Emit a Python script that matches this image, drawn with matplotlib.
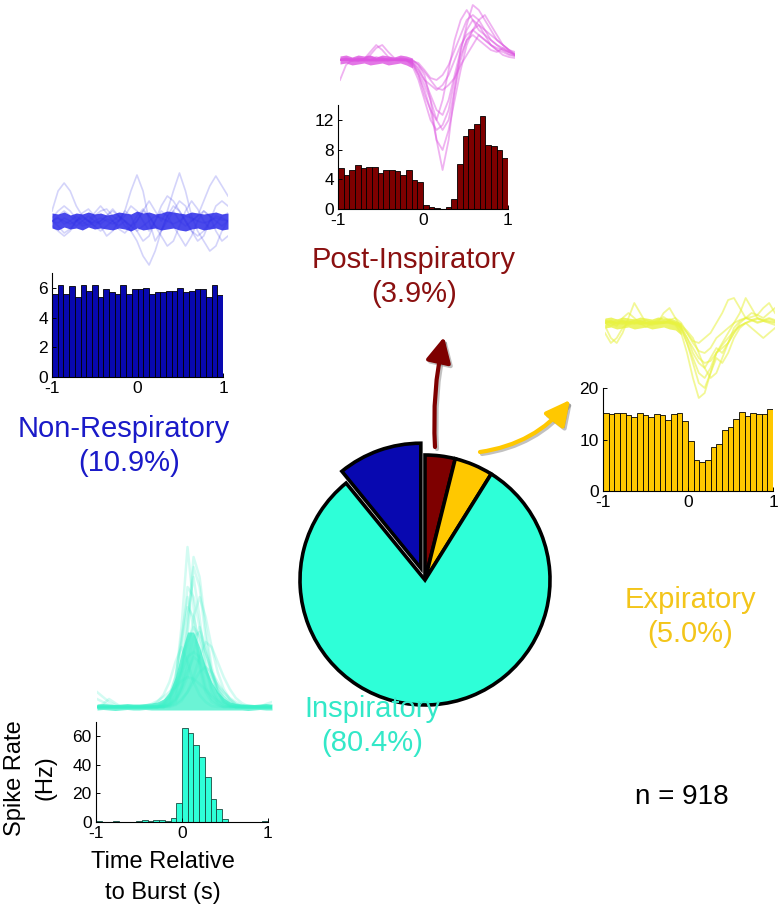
import matplotlib
matplotlib.use("Agg")
import matplotlib.pyplot as plt
import numpy as np
from matplotlib.patches import FancyArrowPatch

plt.rcParams['font.family'] = ['Liberation Sans', 'DejaVu Sans']
plt.rcParams['axes.unicode_minus'] = False

W, H = 780, 917

# ---------------- data ----------------
categories = ["Post-Inspiratory", "Expiratory", "Inspiratory", "Non-Respiratory"]
percents = [3.9, 5.0, 80.4, 10.9]
n_units = 918

bin_centers = np.linspace(-1 + 1/30, 1 - 1/30, 30)

nonresp_rate = [5.6, 6.2, 5.6, 6.1, 5.4, 6.2, 5.8, 6.2, 5.4, 5.9, 5.7, 5.6, 6.2, 5.6, 5.9,
                5.9, 6.0, 5.6, 5.7, 5.7, 5.8, 5.8, 6.0, 5.7, 5.8, 5.9, 5.9, 5.4, 6.2, 5.5]
postinsp_rate = [5.5, 4.6, 5.2, 5.9, 5.5, 5.6, 5.7, 4.8, 5.2, 5.2, 5.1, 4.6, 5.3, 3.9, 3.6,
                 0.5, 0.3, 0.15, 0.05, 0.3, 1.3, 6.1, 9.8, 10.8, 11.5, 12.5, 8.6, 8.5, 8.0, 6.9]
expir_rate = [15.2, 15.0, 15.2, 15.1, 14.8, 14.3, 15.2, 14.8, 14.3, 15.0, 14.8, 13.7, 15.0, 15.2, 13.5,
              9.8, 6.0, 5.7, 6.0, 8.6, 9.1, 11.9, 12.5, 13.9, 15.4, 14.6, 15.2, 15.0, 15.0, 15.9]
insp_rate = [0.4, 0.3, 0.3, 0.4, 0.3, 0.3, 0.3, 0.5, 1.6, 0.4, 1.2, 1.4, 0.5, 3.0, 13.2,
             66.0, 62.6, 54.0, 45.4, 31.5, 16.0, 9.4, 2.1, 0.3, 0.3, 0.2, 0.2, 0.3, 0.3, 0.8]

# spike waveforms (arbitrary units, baseline 0)
nonresp_waves = [
    [1, 3, 3.8, 3, 1.5, 0.5, 0, -0.5, -1, -0.5, 0, 0.5, 0, -0.5, -1, -0.5, 0, 0.5, 0.3, 0, -0.3, 0, 0.5, 0.3, 0, -0.2, 0, 0.3, 0.1, 0],
    [0, 0.3, -0.3, 0, 0.5, 0, -0.5, 0, 0.3, 0, -0.3, 0, 1, 3, 4.6, 3, 0, -2, -1, 0.5, 1, 0, -0.5, 0, 0.5, 1, 0.5, 0, -0.5, 0],
    [0, -0.2, 0.3, 0, -0.5, 0, 0.5, 0, -0.3, 0.2, 0, -0.5, 0, -1, -2, -3.5, -4.4, -3, -1, 0.5, 1.5, 1, 0, -1, -1.5, -1, 0, 0.5, 0.3, 0],
    [0, 0.3, 0, -0.3, 0, 0.3, 0, -0.2, 0, 0.5, 1, 0.5, 0, -0.5, 0, 1, 2, 1, 0, 1, 3, 4.8, 3, 0.5, -1, -2, -3, -2.5, -1, 0],
    [-0.5, -1, -1.5, -1, 0, 0.5, 0, -0.5, 0, 0.5, 1.2, 0.5, -0.5, -1, 0, 1, 0.5, -0.5, -1, 0, 1, 2, 1.5, 0, 0.5, 2, 3.5, 4.5, 3.5, 2.5],
    [0, 0.5, 1, 0.5, 0, -0.5, -0.3, 0.5, 1, 1.2, 0.5, 0, 0.5, 1.5, 1, 0, -1, 0, 1.5, 2.5, 2, 1, 0, -1, -2, -1.5, 0, 1.5, 2, 1.5],
    [0, -0.5, -1.2, -0.8, 0, 0.8, 1.2, 0.5, -0.5, -1.5, -1, 0, 1, 0.5, -1, -2, -1.5, 0, 1, 0.5, -0.5, -1.5, -2.5, -1.5, 0, 1, 0.5, -1, -2, -1.5],
    [0.3, 1, 1.5, 1, 0.2, -0.3, 0, 0.8, 1.5, 0.8, 0, -0.8, -1.2, -0.5, 0.5, 1.2, 0.5, -0.5, -1.5, -2.5, -2, -0.5, 1, 2, 1.2, 0, -0.8, -0.3, 0.5, 0.8],
]
nonresp_band_hi = [0.8, 0.7, 0.9, 0.6, 0.8, 0.7, 0.9, 0.7, 0.8, 0.6, 0.7, 0.9, 0.8, 0.7, 1.0,
                   0.8, 0.9, 0.7, 0.8, 1.0, 0.9, 0.8, 0.7, 0.9, 0.8, 0.7, 0.8, 0.9, 0.7, 0.8]
nonresp_band_lo = [-0.7, -0.9, -0.6, -0.8, -0.7, -0.9, -0.6, -0.8, -0.7, -0.8, -0.9, -0.7, -0.8, -1.0, -0.7,
                   -0.9, -0.8, -0.7, -0.9, -0.8, -0.7, -0.9, -1.0, -0.8, -0.7, -0.9, -0.8, -0.7, -0.9, -0.8]

postinsp_waves = [
    [0, 0.1, -0.1, 0, 0.1, 0, -0.1, 0, 0.1, 0, 0, -0.1, 0, -0.5, -1.5, -4, -8, -11, -8, -3, 1, 3, 4, 3.5, 2.5, 1.5, 1, 0.5, 0.3, 0.2],
    [0, 0.2, 0, -0.1, 0.1, 0.3, 0.1, 0, -0.1, 0, 0.1, 0, -0.2, -0.8, -2, -3.5, -5, -5.5, -4, -1.5, 1, 3.5, 5.5, 5, 4, 3, 2, 1.5, 1, 0.8],
    [-2, -0.5, 0, 0.2, 0.1, 0.8, 1.5, 1, 0.3, 0, -0.1, 0, -0.3, -1.2, -2.5, -4, -6, -7, -6, -3, 0, 2, 3, 3.5, 3, 2.5, 2, 1.5, 1, 0.5],
    [0, 0, 0.1, 0, -0.1, 0, 0.1, 0.2, 0, 0, 0, 0.1, -0.2, -1, -2, -2.5, -3, -2.5, -1.5, 0, 1.5, 2.5, 3, 2.5, 2, 1.5, 1, 0.8, 0.5, 0.4],
    [0.1, 0, -0.1, 0.1, 0, 0.1, 0, -0.1, 0, 0.1, 0, 0, -0.4, -1.5, -3, -5, -8, -9, -7, -4, -1, 1.5, 3, 4, 4.5, 3.5, 2.5, 1.5, 1, 0.6],
    [0, 0.1, 0, -0.1, 0, 0, 0.3, 0.1, 0, 0, 0.2, 0.1, 0, -0.5, -1.2, -2, -2.8, -3, -2.5, -1.8, -0.5, 0.5, 1.5, 2.5, 2, 1.5, 1.2, 1, 0.8, 0.5],
    [0, 0, 0, 0.1, 0, -0.1, 0, 0, 0.1, 0, 0, 0, -0.6, -2, -4, -6, -7, -6.5, -5, -2, 0.5, 2, 2.5, 2, 1.5, 1, 0.8, 1.2, 0.8, 0.5],
    [0, 0, 0.1, 0, 0.1, 0.5, 1.2, 1.5, 0.8, 0.2, 0, 0, -0.1, -0.3, -1, -1.8, -2, -1.5, -0.5, 1, 2.5, 4, 4.5, 4, 3, 2, 1.5, 1, 0.6, 0.4],
    [0, 0.1, 0, 0, 0.1, 0, 0, 0.1, 0, 0, 0.1, 0, -0.3, -1.5, -3.5, -5, -6, -4, -1, 2, 4, 5, 4, 3, 2.5, 2, 1.5, 1.2, 0.8, 0.6],
]
postinsp_band_hi = [0.4, 0.5, 0.3, 0.5, 0.4, 0.5, 0.3, 0.5, 0.4, 0.3, 0.5, 0.4, 0.2]
postinsp_band_lo = [-0.4, -0.3, -0.5, -0.4, -0.3, -0.5, -0.4, -0.3, -0.5, -0.4, -0.3, -0.5, -0.8]

expir_waves = [
    [0, 0.2, -0.1, 0.1, 0, 0.2, -0.1, 0, 0.1, 0, 0.2, 0, -0.2, -1, -3, -5.5, -7.5, -7, -5, -3.5, -4, -3, -1.5, -0.5, 0, 0.3, 0.5, 0.2, 0.1, 0],
    [-0.3, -1.5, -2, -1, 0.5, 2, 1, 0, -0.2, 0, 0.1, 0, -0.1, -0.5, -1.5, -3, -4, -4.5, -3.5, -2.5, -3, -2, -0.5, 0.2, 0.5, 0.3, 0, 0.2, 0, -0.2],
    [0.2, 0, 0.3, 0, -0.2, 0.1, 0, 0.3, 0, 0, 1, 1.5, 0.5, -0.5, -2, -4, -6, -6.5, -5, -3, -2, -1, 0, 1, 2.5, 1.5, 0.5, 0.3, 0.5, 0.3],
    [0, -0.3, 0.1, 0.2, 0, -0.1, 0.2, 0, -0.1, 0.1, 0, 0.2, 0, -0.3, -1, -2, -2.8, -3, -2.5, -1.5, -1, -0.5, 0, 0.3, 0.5, 0.6, 0.8, 1.5, 2, 1],
    [0.1, 0.2, 0, -0.1, 0.2, 0, 0.1, -0.1, 0, 0.1, 0, 0.1, -0.1, -0.6, -2, -3.5, -5, -5.5, -4.5, -3, -2.5, -2, -1, -0.3, 0, -0.5, -1, -1.5, -1, -0.5],
    [-1, -2, -1.5, -0.5, 0, 0.3, 0.2, 0, 0, -0.1, 0, 0.3, 0.5, 0, -1, -1.8, -2, -1.5, -1, 0, 1, 2.3, 2.5, 1.5, 0.5, 0.3, 0.1, 0.2, 0.4, 0.2],
    [0, 0.1, 0, 0.2, 0.1, 0, -0.1, 0, 0.2, 0, 0, 0.1, 0, -0.4, -1.5, -2.5, -3.5, -4, -3.8, -3, -2.2, -1.5, -0.8, -0.3, 0, 0.2, 0.4, 0.3, 0.2, 0.1],
    [0.3, 0, -0.3, 0.5, 1, 0.5, 0, -0.4, 0, 0.3, 0.6, 0.2, 0, -0.2, -0.8, -1.5, -3, -4.5, -5.5, -5, -3.5, -2, -1, 0, 0.5, 1, 0.8, 0.5, 1, 1.5],
]
expir_band_hi = [0.5, 0.6, 0.4, 0.6, 0.5, 0.4, 0.6, 0.5, 0.4, 0.6, 0.5, 0.5, 0.3, 0.0]
expir_band_lo = [-0.5, -0.4, -0.6, -0.5, -0.4, -0.6, -0.5, -0.4, -0.6, -0.5, -0.4, -0.6, -0.7, -1.2]

insp_waves = [
    [0, 0, 0, 0, 0, 0, 0, 0, 0, 0, 0, 0.2, 0.8, 2.5, 8, 16, 10, 4, 1.5, 0.5, 0.2, 0, 0, 0, 0, 0, 0, 0, 0, 0],
    [0, 0, 0, 0, 0, 0, 0, 0, 0, 0, 0, 0.1, 0.5, 1.5, 4, 9, 13, 9, 4, 1.5, 0.5, 0.1, 0, 0, 0, 0, 0, 0, 0, 0],
    [0, 0, 0, 0, 0, 0, 0, 0, 0, 0, 0.1, 0.4, 1.2, 3, 6.5, 10, 9, 6.5, 4, 2, 0.8, 0.3, 0.1, 0, 0, 0, 0, 0, 0, 0],
    [0, 0, 0, 0, 0, 0, 0, 0, 0, 0, 0, 0, 0.2, 0.6, 1.5, 3, 5.5, 8, 6, 3.5, 1.5, 0.5, 0.2, 0, 0, 0, 0, 0, 0, 0],
    [0, 0, 0, 0, 0, 0, 0, 0, 0, 0.1, 0.5, 1.2, 2.5, 4.5, 6, 4.5, 2.5, 1.2, 0.5, 0.1, 0, 0, 0, 0, 0, 0, 0, 0, 0, 0],
    [0, 0, 0, 0, 0, 0, 0, 0, 0, 0, 0, 0, 0.1, 0.3, 0.8, 1.5, 2.5, 3.5, 4, 3.5, 2.5, 1.5, 0.8, 0.3, 0.1, 0, 0, 0, 0, 0],
    [0, 0, 0, 0, 0, 0, 0, 0, 0, 0, 0, 0.2, 0.6, 2, 6, 12, 11, 8, 5.5, 3.5, 2, 1, 0.4, 0.1, 0, 0, 0, 0, 0, 0],
    [0, 0, 0, 0, 0, 0, 0, 0, 0.1, 0.3, 0.6, 1, 1.5, 2, 2.6, 3, 2.8, 2.3, 1.7, 1.1, 0.6, 0.3, 0.1, 0, 0, 0, 0, 0, 0, 0],
    [1.5, 1, 0.5, 0.2, 0, 0, 0, 0, 0, 0, 0, 0.1, 0.3, 0.8, 2, 4, 7, 7.5, 5.5, 3.5, 2, 1.2, 0.6, 0.2, 0, 0, 0, 0, 0.3, 0.5],
    [0, 0.3, 0.8, 0.4, 0, 0, 0, 0, 0, 0, 0, 0, 0.3, 1, 3, 7, 14, 12, 7, 3.5, 1.5, 0.5, 0.1, 0, 0, 0, 0, 0, 0, 0],
    [0, 0, 0, 0, 0, 0, 0, 0, 0, 0, 0.2, 0.5, 1, 2, 3.5, 5, 5.5, 5, 4, 3, 2.2, 1.5, 0.9, 0.5, 0.2, 0, 0, 0, 0, 0],
    [0, 0, 0, 0, 0, 0, 0, 0, 0, 0, 0, 0, 0.1, 0.5, 2, 5, 9, 11, 9, 6, 3.5, 1.8, 0.8, 0.3, 0.1, 0, 0, 0, 0, 0],
    [0, 0, 0, 0, 0, 0, 0, 0, 0, 0, 0.1, 0.3, 0.8, 2, 4, 6.5, 8, 7, 5, 3, 1.5, 0.6, 0.2, 0, 0, 0, 0, 0, 0, 0],
    [0, 0, 0, 0, 0, 0, 0, 0, 0, 0, 0, 0.1, 0.4, 1.2, 3.5, 8, 15, 13, 8, 4, 1.8, 0.7, 0.2, 0, 0, 0, 0, 0, 0, 0],
    [0, 0, 0, 0, 0, 0, 0, 0, 0, 0, 0, 0, 0, 0.2, 0.6, 1.5, 3, 5, 6.5, 6, 4.5, 3, 1.8, 0.9, 0.4, 0.1, 0, 0, 0, 0],
    [0, 0, 0, 0, 0, 0, 0, 0, 0, 0, 0, 0.3, 1, 3, 7, 11, 8, 4.5, 2, 0.8, 0.3, 0, 0, 0, 0, 0, 0, 0, 0, 0],
    [0.8, 0.5, 0.2, 0, 0, 0, 0, 0, 0, 0, 0, 0, 0.2, 0.7, 1.8, 3.5, 5, 4.5, 3.5, 2.5, 1.6, 1, 0.5, 0.2, 0, 0, 0, 0, 0, 0],
]
insp_band_hi = [0.3, 0.35, 0.3, 0.25, 0.3, 0.35, 0.3, 0.3, 0.35, 0.4, 0.5, 0.8, 1.5, 3.0, 5.5, 7.5, 7.5, 6.0, 4.0, 2.5, 1.5, 0.9, 0.5, 0.35, 0.3, 0.3, 0.25, 0.3, 0.35, 0.3]
insp_band_lo = [-0.3, -0.25, -0.3, -0.35, -0.3, -0.25, -0.3, -0.3, -0.25, -0.3, -0.3, -0.3, -0.3, -0.3, -0.3, -0.3, -0.3, -0.3, -0.3, -0.3, -0.3, -0.3, -0.3, -0.3, -0.3, -0.35, -0.3, -0.25, -0.3, -0.3]

# ---------------- colours ----------------
c_post, c_exp, c_insp, c_non = '#7E0000', '#FFC800', '#2EFFD8', '#0808B0'
t_post, t_exp, t_insp, t_non = '#8A1010', '#F3C51A', '#33E8C8', '#1A1AC8'
w_post, w_exp, w_insp, w_non = '#DD55E0', '#E8F240', '#3AF0C8', '#2A2AE8'

fig = plt.figure(figsize=(W / 100, H / 100), dpi=100)


def px_axes(x0, y0, x1, y1, **kw):
    return fig.add_axes([x0 / W, 1 - y1 / H, (x1 - x0) / W, (y1 - y0) / H], **kw)


def hist_axes(x0, y0, x1, y1, rates, color, ylim, yticks, edge='black'):
    ax = px_axes(x0, y0, x1, y1)
    ax.bar(bin_centers, rates, width=2 / 30, color=color, edgecolor=edge, linewidth=0.6)
    ax.set_xlim(-1, 1)
    ax.set_ylim(0, ylim)
    ax.set_xticks([-1, 0, 1])
    ax.set_yticks(yticks)
    for s in ('top', 'right'):
        ax.spines[s].set_visible(False)
    for s in ('left', 'bottom'):
        ax.spines[s].set_linewidth(0.8)
    ax.tick_params(direction='in', length=3, width=0.7, labelsize=12.5, pad=3)
    ax.patch.set_alpha(0)
    return ax


def wave_axes(x0, y0, x1, y1, waves, color, ylim, alpha, lw, band=None, band_alpha=0.85):
    ax = px_axes(x0, y0, x1, y1)
    xs = np.arange(len(waves[0]))
    for w in waves:
        ax.plot(xs, w, color=color, alpha=alpha, lw=lw, solid_joinstyle='round')
    if band is not None:
        n = len(band[0])
        ax.fill_between(xs[:n], band[0], band[1], color=color, alpha=band_alpha, lw=0)
    ax.set_xlim(0, len(xs) - 1)
    ax.set_ylim(*ylim)
    ax.axis('off')
    return ax


# waveforms
wave_axes(52, 170, 228, 272, nonresp_waves, w_non, (-5.1, 5.1), 0.2, 1.2,
          band=(nonresp_band_lo, nonresp_band_hi))
wave_axes(340, 0, 515, 180, postinsp_waves, w_post, (-12, 6), 0.45, 1.3,
          band=(postinsp_band_lo, postinsp_band_hi), band_alpha=0.8)
wave_axes(605, 290, 775, 410, expir_waves, w_exp, (-8.7, 3.3), 0.55, 1.3,
          band=(expir_band_lo, expir_band_hi), band_alpha=0.8)
wave_axes(97, 540, 272, 715, insp_waves, w_insp, (-0.8, 16.7), 0.22, 1.8,
          band=(insp_band_lo, insp_band_hi), band_alpha=0.75)

# histograms
hist_axes(52, 273, 223, 377, nonresp_rate, c_non, 7, [0, 2, 4, 6])
hist_axes(338, 105, 508, 209, postinsp_rate, c_post, 14, [0, 4, 8, 12])
hist_axes(603, 388, 773, 491, expir_rate, c_exp, 20, [0, 10, 20])
hist_axes(96, 722, 268, 822, insp_rate, c_insp, 70, [0, 20, 40, 60], edge='#1a4a40')

# pie
cx, cy, R = 425, 580, 125
axp = px_axes(cx - 150, cy - 150, cx + 150, cy + 150)
axp.pie(percents, colors=[c_post, c_exp, c_insp, c_non], startangle=90, counterclock=False,
        explode=[0, 0, 0, 0.1],
        wedgeprops=dict(edgecolor='black', linewidth=2.6, joinstyle='miter'))
axp.set_xlim(-1.2, 1.2)
axp.set_ylim(-1.2, 1.2)
axp.set_aspect('auto')
axp.axis('off')

# overlay for text and arrows
ax = fig.add_axes([0, 0, 1, 1], zorder=10)
ax.set_xlim(0, W)
ax.set_ylim(H, 0)
ax.axis('off')


def arrow(p0, p1, color, rad):
    style = '-|>,head_length=0.75,head_width=0.38'
    sh = FancyArrowPatch((p0[0] + 2, p0[1] + 2), (p1[0] + 2, p1[1] + 2),
                         connectionstyle=f"arc3,rad={rad}", arrowstyle=style,
                         color='#777777', lw=3, alpha=0.45, mutation_scale=20, shrinkA=0, shrinkB=0)
    ax.add_patch(sh)
    ar = FancyArrowPatch(p0, p1, connectionstyle=f"arc3,rad={rad}", arrowstyle=style,
                         color=color, lw=3, mutation_scale=20, shrinkA=0, shrinkB=0)
    ax.add_patch(ar)


arrow((435, 447), (444, 337), c_post, -0.07)
arrow((480, 452), (570, 400), c_exp, 0.2)

fs = 21
ax.text(414, 268, categories[0], color=t_post, fontsize=fs, ha='center', va='baseline')
ax.text(414, 302, f"({percents[0]:.1f}%)", color=t_post, fontsize=fs, ha='center', va='baseline')
ax.text(124, 437, categories[3], color=t_non, fontsize=fs, ha='center', va='baseline')
ax.text(129, 471, f"({percents[3]:.1f}%)", color=t_non, fontsize=fs, ha='center', va='baseline')
ax.text(690, 608, categories[1], color=t_exp, fontsize=fs, ha='center', va='baseline')
ax.text(690, 642, f"({percents[1]:.1f}%)", color=t_exp, fontsize=fs, ha='center', va='baseline')
ax.text(372, 717, categories[2], color=t_insp, fontsize=fs, ha='center', va='baseline')
ax.text(372, 751, f"({percents[2]:.1f}%)", color=t_insp, fontsize=fs, ha='center', va='baseline')
ax.text(682, 804, f"n = {n_units}", color='black', fontsize=20, ha='center', va='baseline')

ax.text(15, 778, "Spike Rate", fontsize=17, rotation=90, ha='center', va='center')
ax.text(46, 778, "(Hz)", fontsize=17, rotation=90, ha='center', va='center')
ax.text(163, 862, "Time Relative", fontsize=17, ha='center', va='center')
ax.text(163, 893, "to Burst (s)", fontsize=17, ha='center', va='center')

fig.savefig("out.png", dpi=100)
